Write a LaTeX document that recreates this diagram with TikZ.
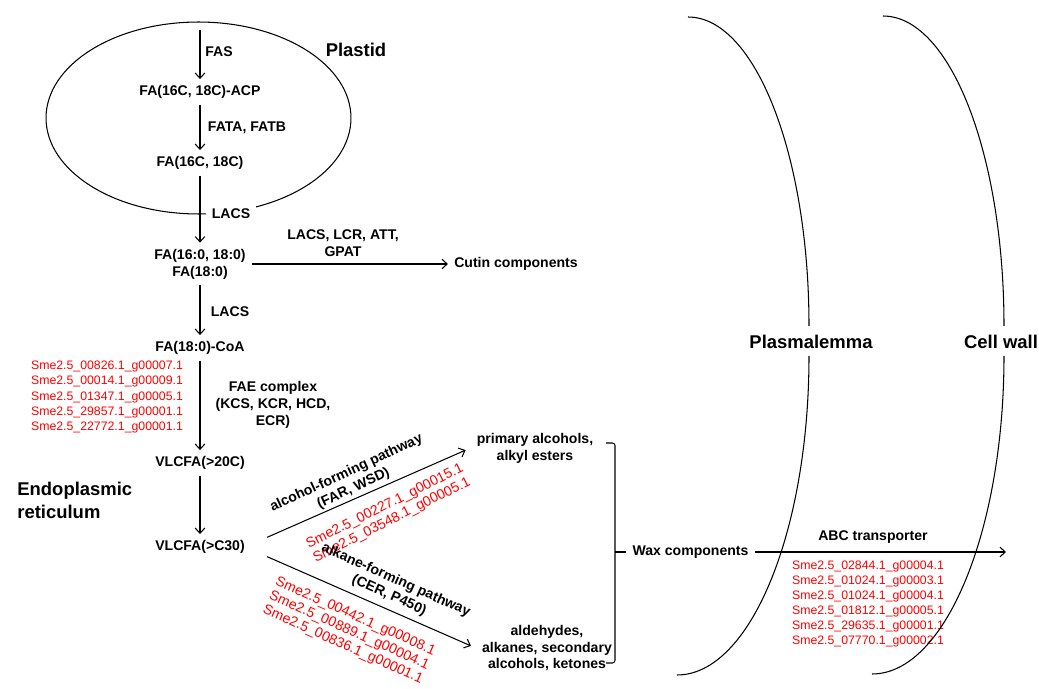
\documentclass[tikz,border=0pt]{standalone}
\usepackage{fontspec}
\setmainfont{Liberation Sans}
\usetikzlibrary{shapes.geometric,arrows.meta}

\begin{document}
\begin{tikzpicture}[x=0.02cm, y=-0.02cm, line width=0.6pt,
    >={Straight Barb[length=3pt,width=5.5pt]},
    lbl/.style={font=\bfseries\fontsize{8}{9.6}\selectfont, align=center},
    gene/.style={font=\fontsize{7}{8.6}\selectfont, text=red, align=left, inner sep=1pt},
    rgene/.style={font=\fontsize{8}{8.8}\selectfont, text=red, align=left, inner sep=1pt},
    region/.style={font=\bfseries\fontsize{10.5}{13}\selectfont, align=left}]
    \useasboundingbox (0,0) rectangle (1039,689);

    % plastid
    \node (PL) at (198.5,118) [ellipse, draw, minimum width=6.1cm, minimum height=3.84cm, inner sep=0pt] {};
    \node (PLT) at (356,50) [region] {Plastid};
    \coordinate (S) at (200,30);
    \node (FAS) at (219,52) [lbl] {FAS};
    \node (ACP) at (200,92) [lbl] {FA(16C, 18C)-ACP};
    \node (FAT) at (247,128) [lbl] {FATA, FATB};
    \node (FA16) at (200,163) [lbl] {FA(16C, 18C)};
    \node (LACS1) at (231,214) [lbl, fill=white] {LACS};

    \draw (S) edge[->] (ACP);
    \draw (ACP) edge[->] (FA16);

    %-----

    \node (FA160) at (200,264) [lbl] {FA(16:0, 18:0)\\FA(18:0)};
    \node (CUT) at (516,264) [lbl] {Cutin components};
    \node (LCR) at (343,243.5) [lbl] {LACS, LCR, ATT,\\GPAT};
    \node (LACS2) at (230,312) [lbl] {LACS};
    \node (COA) at (200,348) [lbl] {FA(18:0)-CoA};
    \node (G1) at (107,397) [gene] {Sme2.5\_00826.1\_g00007.1\\Sme2.5\_00014.1\_g00009.1\\Sme2.5\_01347.1\_g00005.1\\Sme2.5\_29857.1\_g00001.1\\Sme2.5\_22772.1\_g00001.1};
    \node (FAE) at (273,405) [lbl] {FAE complex\\(KCS, KCR, HCD,\\ECR)};

    \draw (FA16) edge[->] (FA160);
    \draw (FA160) edge[->] (CUT);
    \draw (FA160) edge[->] (COA);

    %-----

    \node (ER) at (11,500.5) [region, anchor=west] {Endoplasmic\\reticulum};
    \node (V20) at (200,463) [lbl] {VLCFA(>20C)};
    \node (V30) at (200,547) [lbl] {VLCFA(>C30)};

    \draw (COA) edge[->] (V20);
    \draw (V20) edge[->] (V30);

    %-----

    \node (ALC) at (535,448) [lbl] {primary alcohols,\\alkyl esters};
    \node (ALD) at (547,648) [lbl] {aldehydes,\\alkanes, secondary\\alcohols, ketones};
    \node (G2) at (388.5,513.5) [rgene, rotate=26.5] {Sme2.5\_00227.1\_g00015.1\\Sme2.5\_03548.1\_g00005.1};
    \node (G3) at (349,631) [rgene, rotate=-24] {Sme2.5\_00442.1\_g00008.1\\Sme2.5\_00889.1\_g00004.1\\Sme2.5\_00836.1\_g00001.1};
    \node (ALP) at (350,481) [lbl, rotate=25] {alcohol-forming pathway\\(FAR, WSD)};
    \node (AKP) at (392.5,588) [lbl, rotate=-24] {alkane-forming pathway\\(CER, P450)};

    \draw ([yshift=1.5pt]V30.east) edge[->, shorten <=10pt, shorten >=3pt] (ALC.west);
    \draw ([yshift=-1.5pt]V30.east) edge[->, shorten <=10pt, shorten >=3pt] (ALD.west);

    %-----

    \draw[rounded corners=1.5pt] (606,443) -- (615,443) -- (615,663) -- (606,663);
    \coordinate (BR) at (615,552);
    \node (WAX) at (690.5,552) [lbl] {Wax components};
    \coordinate (END) at (1006,552);
    \node (ABC) at (873,537) [lbl] {ABC transporter};
    \node (G4) at (868,604) [gene] {Sme2.5\_02844.1\_g00004.1\\Sme2.5\_01024.1\_g00003.1\\Sme2.5\_01024.1\_g00004.1\\Sme2.5\_01812.1\_g00005.1\\Sme2.5\_29635.1\_g00001.1\\Sme2.5\_07770.1\_g00002.1};

    \draw (BR) edge[-] (WAX);
    \draw (WAX) edge[->] (END);

    %-----

    \node (PM) at (811,342) [region] {Plasmalemma};
    \node (CW) at (1001,342) [region] {Cell wall};
    \draw (688,17) .. controls (755,17) and (809,155) .. (809,326);
    \draw (809,356) .. controls (809,532) and (750,675) .. (677,675);
    \draw (883,16) .. controls (950,16) and (1004,154) .. (1004,326);
    \draw (1004,356) .. controls (1004,531) and (945,674) .. (872,674);
\end{tikzpicture}
\end{document}
